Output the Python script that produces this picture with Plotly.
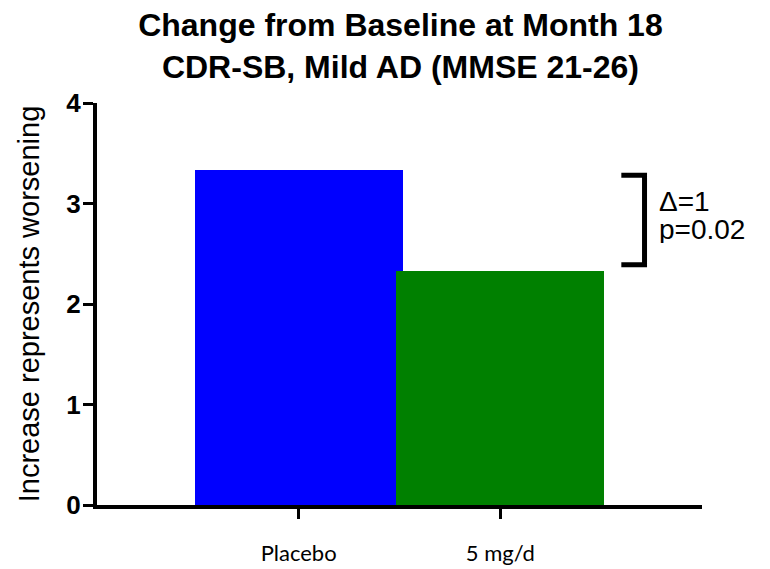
import plotly.graph_objects as go

categories = ["Placebo", "5 mg/d"]
values = [3.33, 2.33]
bar_colors = ["#0000FF", "#008000"]
y_ticks = [0, 1, 2, 3, 4]
title_lines = ["Change from Baseline at Month 18", "CDR-SB, Mild AD (MMSE 21-26)"]
y_title = "Increase represents worsening"
delta_text = ["\u0394=1", "p=0.02"]

x_pos = list(range(len(categories)))

fig = go.Figure()
fig.add_trace(go.Bar(
    x=x_pos, y=values, width=1.03,
    marker=dict(color=bar_colors, line=dict(width=0)),
    showlegend=False, hoverinfo="skip",
))

# significance bracket between the two bar heights
b_top = values[0] - 0.05
b_bot = values[1] + 0.06
bx0, bx1 = 1.6, 1.715
fig.add_shape(type="path",
              path=f"M {bx0},{b_top} L {bx1},{b_top} L {bx1},{b_bot} L {bx0},{b_bot}",
              xref="x", yref="y", line=dict(color="black", width=5))
mid = (b_top + b_bot) / 2
offsets = [0.19, -0.09]
for t, off in zip(delta_text, offsets):
    fig.add_annotation(x=1.775, y=mid + off, xref="x", yref="y",
                       text=t, showarrow=False, height=28,
                       xanchor="left", yanchor="middle", align="left",
                       font=dict(family="Liberation Sans, Arial", size=28, color="black"))

# page body adds an 8px offset; size the figure to fit the remaining window
fig.update_layout(
    width=762, height=561,
    margin=dict(l=89, r=68, t=95, b=64, autoexpand=False),
    paper_bgcolor="white", plot_bgcolor="white",
    title=dict(text="<b>" + "<br>".join(title_lines) + "</b>",
               x=0.515, xanchor="center", y=0.95, yanchor="top", yref="container",
               font=dict(family="Liberation Sans, Arial", size=32, color="black")),
    bargap=0,
)
fig.update_xaxes(range=[-1, 2.0], showgrid=False, zeroline=False, automargin=False,
                 showline=True, linewidth=4, linecolor="black",
                 ticks="outside", ticklen=10, tickwidth=3, tickcolor="black",
                 tickvals=x_pos, ticktext=categories, ticklabelstandoff=16,
                 tickfont=dict(family="Lato, Open Sans", size=22, color="black"))
fig.update_yaxes(range=[0, 4], tickvals=y_ticks, showgrid=False, zeroline=False, automargin=False,
                 showline=True, linewidth=4, linecolor="black",
                 ticks="outside", ticklen=10, tickwidth=3, tickcolor="black",
                 ticklabelstandoff=-3,
                 tickfont=dict(family="Liberation Sans, Arial", size=26, color="black", weight="bold"),
                 title=dict(text=y_title, standoff=19,
                            font=dict(family="Liberation Sans, Arial", size=29, color="black")))

fig.write_html("out.html")
